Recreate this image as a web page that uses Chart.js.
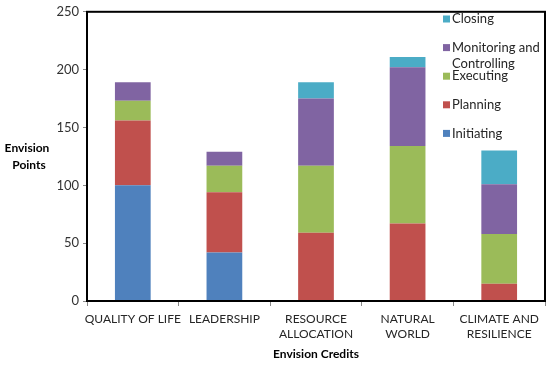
<!DOCTYPE html>
<html>
<head>
<meta charset="utf-8">
<script src="https://cdn.jsdelivr.net/npm/chart.js@4/dist/chart.umd.min.js"></script>
<style>
  html, body { margin: 0; padding: 0; background: #fff; }
  #wrap { width: 550px; height: 365px; }
</style>
</head>
<body>
<div id="wrap"><canvas id="phaseChart" width="550" height="365"></canvas></div>
<script>
const credits = [
  "QUALITY OF LIFE",
  "LEADERSHIP",
  ["RESOURCE", "ALLOCATION"],
  ["NATURAL", "WORLD"],
  ["CLIMATE AND", "RESILIENCE"]
];
const initiating = [100, 42, 0, 0, 0];
const planning = [56, 52, 59, 67, 15];
const executing = [17, 23, 58, 67, 43];
const monitoring = [16, 12, 58, 68, 43];
const closing = [0, 0, 14, 9, 29];
const yTicks = [0, 50, 100, 150, 200, 250];

const FONT = "Lato, 'Open Sans', sans-serif";

// legend drawn inside the plot, top-right, in reverse order like the original
const sideLegend = {
  id: "sideLegend",
  afterDraw(chart) {
    const ctx = chart.ctx;
    const area = chart.chartArea;
    ctx.save();

    // frame around plot
    ctx.strokeStyle = "#000";
    ctx.lineWidth = 2;
    ctx.strokeRect(area.left, area.top, area.right - area.left, area.bottom - area.top);

    ctx.font = "13px " + FONT;
    ctx.textBaseline = "middle";
    ctx.textAlign = "left";
    const sets = chart.data.datasets.slice().reverse();
    sets.forEach((ds, i) => {
      const y = 19 + i * 28.6;
      ctx.fillStyle = ds.backgroundColor;
      ctx.fillRect(443, y - 3.5, 7, 7);
      ctx.fillStyle = "#262626";
      const words = ds.label.split(" ");
      let line = "", lines = [];
      words.forEach(w => {
        const test = line ? line + " " + w : w;
        if (ctx.measureText(test).width > 92 && line) { lines.push(line); line = w; }
        else line = test;
      });
      lines.push(line);
      lines.forEach((l, k) => ctx.fillText(l, 452, y + k * 16));
    });

    // horizontal y-axis title
    ctx.font = "bold 12px " + FONT;
    ctx.textAlign = "center";
    ctx.fillStyle = "#000";
    ctx.fillText("Envision", 27, 148);
    ctx.fillText("Points", 29, 165);
    ctx.restore();
  }
};

const ctx = document.getElementById("phaseChart").getContext("2d");
new Chart(ctx, {
  type: "bar",
  data: {
    labels: credits,
    datasets: [
      { label: "Initiating", data: initiating, backgroundColor: "#4F81BD" },
      { label: "Planning", data: planning, backgroundColor: "#C0504D" },
      { label: "Executing", data: executing, backgroundColor: "#9BBB59" },
      { label: "Monitoring and Controlling", data: monitoring, backgroundColor: "#8064A2" },
      { label: "Closing", data: closing, backgroundColor: "#4BACC6" }
    ]
  },
  options: {
    responsive: false,
    animation: false,
    layout: { padding: { top: 9, right: 5, left: 0, bottom: 0 } },
    datasets: { bar: { categoryPercentage: 1, barPercentage: 0.39 } },
    plugins: {
      legend: { display: false },
      tooltip: { enabled: false }
    },
    scales: {
      x: {
        stacked: true,
        afterFit: s => { s.height = 64; },
        grid: { offset: true, drawOnChartArea: false, drawTicks: true, tickLength: 5, color: "#888" },
        border: { display: true, color: "#000", width: 2 },
        ticks: { color: "#262626", font: { family: FONT, size: 12, lineHeight: 1.25 }, padding: 6, maxRotation: 0, autoSkip: false },
        title: { display: true, text: "Envision Credits", color: "#000", font: { family: FONT, size: 12, weight: "bold" }, padding: { top: 2 } }
      },
      y: {
        stacked: true,
        min: 0,
        max: 250,
        afterFit: s => { s.width = 87; },
        afterBuildTicks: s => { s.ticks = yTicks.map(v => ({ value: v })); },
        grid: { drawOnChartArea: false, drawTicks: true, tickLength: 4, color: "#888" },
        border: { display: true, color: "#000", width: 2 },
        ticks: { color: "#333", font: { family: FONT, size: 13 }, padding: 4 }
      }
    }
  },
  plugins: [sideLegend]
});
</script>
</body>
</html>
